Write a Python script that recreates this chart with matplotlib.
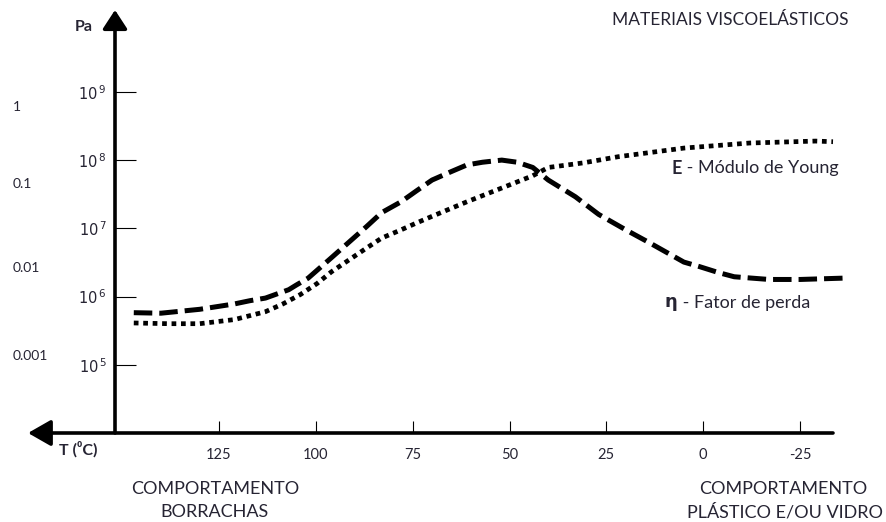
import matplotlib
matplotlib.use("Agg")
import matplotlib.pyplot as plt

# temperatura (°C) e valores em Pa
temp_perda = [147, 140, 130, 121, 117, 113, 107, 105, 102, 96, 87, 83, 78, 74, 70, 65, 61, 57,
              52, 48, 44, 40, 33, 27, 20, 14, 5, 1, -4, -8, -17, -25, -36]
pa_perda = [5.8e5, 5.7e5, 6.5e5, 7.8e5, 8.7e5, 9.5e5, 1.26e6, 1.48e6, 1.86e6, 3.7e6, 1.05e7,
            1.7e7, 2.45e7, 3.55e7, 5.1e7, 6.8e7, 8.5e7, 9.3e7, 1.0e8, 9.3e7, 7.8e7, 5.1e7,
            2.9e7, 1.6e7, 9.5e6, 6.2e6, 3.2e6, 2.75e6, 2.24e6, 1.95e6, 1.78e6, 1.78e6, 1.86e6]

temp_young = [147, 138, 130, 121, 113, 108.5, 104, 99.7, 96, 87, 83, 78, 74, 70, 61, 52, 44,
              40, 31, 22, 5, -12, -29, -33.5]
pa_young = [4.1e5, 4.0e5, 4.0e5, 4.6e5, 6.0e5, 7.8e5, 1.07e6, 1.55e6, 2.3e6, 5.1e6, 7.2e6,
            9.5e6, 1.2e7, 1.5e7, 2.45e7, 3.9e7, 5.9e7, 7.8e7, 9.1e7, 1.12e8, 1.5e8, 1.78e8,
            1.9e8, 1.86e8]

x_ticks = [125, 100, 75, 50, 25, 0, -25]
y_exps = [5, 6, 7, 8, 9]
tan_labels = ["1", "0.1", "0.01", "0.001"]
tan_y_px = [107, 184, 268, 356]

W, H = 887, 522
txt = "#262433"
fam = ["Lato", "DejaVu Sans"]

fig = plt.figure(figsize=(W / 100, H / 100), dpi=100)
ax = fig.add_axes([115 / W, 1 - 433 / H, (833 - 115) / W, (433 - 10) / H])

ax.plot(temp_perda, pa_perda, color="black", lw=3.6, dashes=(3.7, 1.4), clip_on=False)
ax.plot(temp_young, pa_young, color="black", lw=3.4, dashes=(1, 1), clip_on=False)

ax.set_yscale("log")
ax.set_xlim(151.85, -33.5)
ax.set_ylim(1e4, 10 ** 10.2)

for s in ax.spines.values():
    s.set_visible(False)

ax.set_xticks(x_ticks)
ax.set_xticklabels([str(v) for v in x_ticks], family=fam, fontsize=10.5, color=txt)
ax.set_yticks([10.0 ** e for e in y_exps])
ax.set_yticklabels([r"$\mathregular{10^{\,%d}}$" % e for e in y_exps], fontsize=10.5, color=txt)
ax.minorticks_off()
ax.tick_params(axis="x", direction="in", length=9, width=0.8, pad=11)
ax.tick_params(axis="y", direction="in", length=15, width=0.8, pad=6)

# eixos com setas
ax.annotate("", xy=(-87 / 718, 0), xytext=(1, 0), xycoords="axes fraction",
            arrowprops=dict(arrowstyle="-|>,head_length=1.4,head_width=0.8", lw=2.6,
                            color="black", shrinkA=0, shrinkB=0, mutation_scale=10),
            annotation_clip=False)
ax.annotate("", xy=(0, 1), xytext=(0, 0), xycoords="axes fraction",
            arrowprops=dict(arrowstyle="-|>,head_length=1.15,head_width=0.75", lw=2.6,
                            color="black", shrinkA=0, shrinkB=0, mutation_scale=10),
            annotation_clip=False)

fig.text(93 / W, 1 - 27 / H, "Pa", ha="right", va="center", fontsize=11.5,
         fontweight="bold", family=fam, color=txt)
fig.text(59 / W, 1 - 449 / H, "T (⁰C)", ha="left", va="center", fontsize=11.5,
         fontweight="bold", family=fam, color=txt)

for lab, ypx in zip(tan_labels, tan_y_px):
    fig.text(13 / W, 1 - ypx / H, lab, ha="left", va="center", fontsize=10,
             family=fam, color=txt)

fig.text(730 / W, 1 - 20 / H, "MATERIAIS VISCOELÁSTICOS", ha="center", va="center",
         fontsize=12.5, family=fam, color=txt)

t1 = fig.text(672 / W, 1 - 168 / H, "E", ha="left", va="center", fontsize=13,
              fontweight="bold", family=fam, color=txt)
ax.annotate(" - Módulo de Young", xy=(1, 0), xycoords=t1, va="bottom", ha="left",
            fontsize=13, family=fam, color=txt, annotation_clip=False)

t2 = fig.text(665 / W, 1 - 302 / H, "η", ha="left", va="center", fontsize=13,
              fontweight="bold", family=["DejaVu Sans"], color=txt)
ax.annotate(" - Fator de perda", xy=(1, 0), xycoords=t2, va="bottom", ha="left",
            fontsize=13, family=fam, color=txt, annotation_clip=False)

fig.text(215 / W, 1 - 489 / H, "COMPORTAMENTO", ha="center", va="center",
         fontsize=13, family=fam, color=txt)
fig.text(215 / W, 1 - 512 / H, "BORRACHAS", ha="center", va="center",
         fontsize=13, family=fam, color=txt)
fig.text(783 / W, 1 - 489 / H, "COMPORTAMENTO", ha="center", va="center",
         fontsize=13, family=fam, color=txt)
fig.text(785 / W, 1 - 512 / H, "PLÁSTICO E/OU VIDRO", ha="center", va="center",
         fontsize=13, family=fam, color=txt)

fig.savefig("out.png", dpi=100)
